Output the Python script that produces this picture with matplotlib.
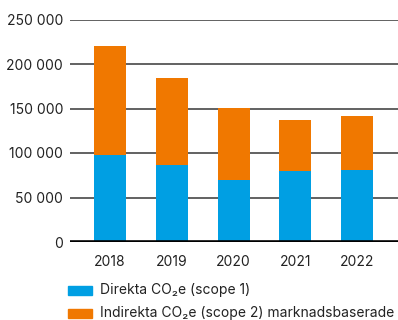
import matplotlib
matplotlib.use("Agg")
import matplotlib.pyplot as plt
from matplotlib.patches import Rectangle
from matplotlib.ticker import FuncFormatter

plt.rcParams['font.family'] = ['Inter', 'DejaVu Sans']

years = ["2018", "2019", "2020", "2021", "2022"]
scope1 = [98000, 87000, 70000, 80000, 81000]
scope2_total = [220000, 184000, 150000, 137000, 142000]
scope2 = [t - s for t, s in zip(scope2_total, scope1)]
legend_labels = ["Direkta CO\u2082e (scope 1)",
                 "Indirekta CO\u2082e (scope 2) marknadsbaserade"]

blue = "#009FE3"
orange = "#F07800"

W, H = 398, 320
fig = plt.figure(figsize=(W / 100, H / 100), dpi=100)
ax = fig.add_axes([70 / W, 1 - 242 / H, 328 / W, (242 - 19.5) / H])

x = list(range(len(years)))
ax.bar(x, scope1, width=0.52, color=blue, zorder=3)
ax.bar(x, scope2, width=0.52, bottom=scope1, color=orange, zorder=3)

ax.set_ylim(0, 250000)
ax.set_xlim(-0.648, 4.66)
ax.set_yticks(range(0, 250001, 50000))
ax.yaxis.set_major_formatter(FuncFormatter(lambda v, p: f"{int(v):,}".replace(",", " ")))
ax.set_xticks(x)
ax.set_xticklabels(years)
ax.grid(axis='y', color='#555555', linewidth=1.3, zorder=1)
ax.axhline(0, color='black', linewidth=2.6, zorder=4)
for s in ax.spines.values():
    s.set_visible(False)
ax.tick_params(axis='both', length=0, labelsize=10, colors='#222222')
ax.tick_params(axis='y', pad=5)
ax.tick_params(axis='x', pad=9)

# legend drawn as swatches and labels in figure pixel coordinates
for i, (lab, col) in enumerate(zip(legend_labels, [blue, orange])):
    yc = 290 + i * 23.5
    fig.patches.append(Rectangle((68 / W, 1 - (yc + 4.5) / H), 24 / W, 9 / H,
                                 transform=fig.transFigure, color=col))
    fig.text(100 / W, 1 - yc / H, lab, fontsize=10, color='#222222',
             va='center', ha='left')

fig.savefig("out.png", dpi=100)
